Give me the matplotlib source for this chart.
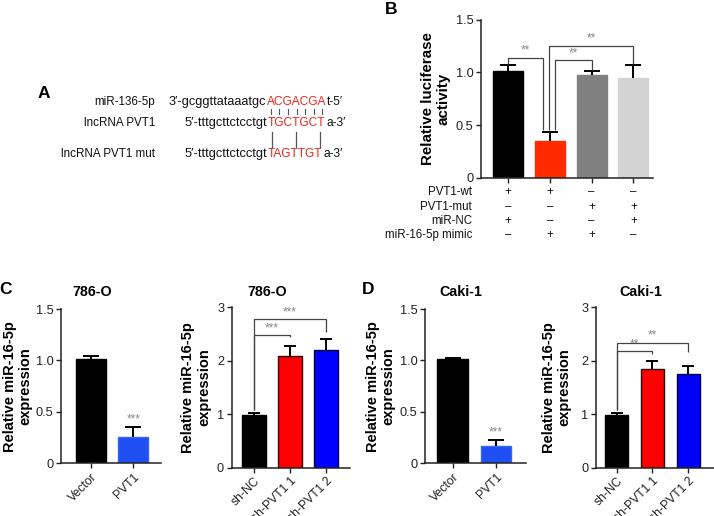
import matplotlib
matplotlib.use('Agg')
import matplotlib.pyplot as plt
from matplotlib.transforms import blended_transform_factory
from matplotlib.font_manager import FontProperties

plt.rcParams['font.family'] = ['Liberation Sans', 'DejaVu Sans']

W, H = 714, 516
fig = plt.figure(figsize=(W / 100, H / 100), dpi=100)

# ---------------- data ----------------
# Panel A
a_labels = ["miR-136-5p", "lncRNA PVT1", "lncRNA PVT1 mut"]
a_prefix = ["3′-gcggttataaatgc", "5′-tttgcttctcctgt", "5′-tttgcttctcctgt"]
a_site = ["ACGACGA", "TGCTGCT", "TAGTTGT"]
a_suffix = ["t-5′", "a-3′", "a-3′"]

# Panel B
b_means = [1.01, 0.345, 0.975, 0.945]
b_err = [0.06, 0.09, 0.04, 0.125]
b_colors = ['#000000', '#ff2a00', '#808080', '#d3d3d3']
b_rows = ["PVT1-wt", "PVT1-mut", "miR-NC", "miR-16-5p mimic"]
b_signs = [["+", "+", "–", "–"],
           ["–", "–", "+", "+"],
           ["+", "–", "–", "+"],
           ["–", "+", "+", "–"]]
# (x_left, x_right, y_top, y_left_end, y_right_end)
b_brackets = [(0, 0.83, 1.14, 1.075, 0.45),
              (1.12, 2, 1.115, 0.45, 1.025),
              (0.97, 3, 1.255, 0.45, 1.075)]
b_stars = ["**", "**", "**"]

# Panel C
c1_cats = ["Vector", "PVT1"]
c1_means = [1.01, 0.26]
c1_err = [0.03, 0.09]
c2_cats = ["sh-NC", "sh-PVT1 1", "sh-PVT1 2"]
c2_means = [0.99, 2.09, 2.21]
c2_err = [0.04, 0.18, 0.19]
c2_brackets = [(0, 1, 2.48, 1.08, 2.44), (0, 2, 2.78, 1.08, 2.54)]
c_stars = ["***", "***"]

# Panel D
d1_cats = ["Vector", "PVT1"]
d1_means = [1.01, 0.168]
d1_err = [0.015, 0.055]
d2_cats = ["sh-NC", "sh-PVT1 1", "sh-PVT1 2"]
d2_means = [0.99, 1.85, 1.76]
d2_err = [0.04, 0.15, 0.15]
d2_brackets = [(0, 1, 2.18, 1.08, 2.13), (0, 2, 2.34, 1.08, 2.17)]
d_stars = ["**", "**"]

ylab_expr = "Relative miR-16-5p\nexpression"

# ---------------- helpers ----------------
def axes_px(l, t, r, b):
    return fig.add_axes([l / W, 1 - b / H, (r - l) / W, (b - t) / H])


def style_axes(ax, xlim, ylim, yticks, yticklabels):
    for s in ['top', 'right']:
        ax.spines[s].set_visible(False)
    for s in ['left', 'bottom']:
        ax.spines[s].set_linewidth(1.1)
        ax.spines[s].set_color('#222222')
    ax.set_xlim(*xlim)
    ax.set_ylim(*ylim)
    ax.set_yticks(yticks)
    ax.set_yticklabels(yticklabels)
    ax.tick_params(axis='both', direction='out', length=3.5, width=1.0,
                   labelsize=9.2, colors='#222222', pad=2)


def draw_bars(ax, means, errs, colors, edgecolors, width, capsize):
    x = list(range(len(means)))
    ax.bar(x, means, width=width, color=colors, edgecolor=edgecolors,
           linewidth=1.0, zorder=2)
    cont = ax.errorbar(x, means, yerr=[[0] * len(errs), errs], fmt='none',
                       ecolor='black', elinewidth=1.4, capsize=capsize,
                       capthick=1.4, zorder=3)
    caps = cont.lines[1]
    if len(caps) >= 2:
        caps[0].set_visible(False)
    return x


def draw_brackets(ax, brackets, stars, star_size=8.5, color='#444444'):
    for (x1, x2, yt, y1, y2), s in zip(brackets, stars):
        ax.plot([x1, x1, x2, x2], [y1, yt, yt, y2], color=color, lw=0.9,
                zorder=4, solid_capstyle='butt')
        ax.annotate(s, xy=((x1 + x2) / 2, yt), xytext=(0, 0.5),
                    textcoords='offset points', ha='center', va='bottom',
                    fontsize=star_size, color='#888888')


def ylabel(ax, xfrac, text, size=10.5, yfrac=0.5):
    ax.text(xfrac, yfrac, text, transform=ax.transAxes, rotation=90,
            ha='center', va='center', fontsize=size, fontweight='bold',
            multialignment='center', linespacing=1.15)


def title(ax, xfrac, yfrac, text):
    ax.text(xfrac, yfrac, text, transform=ax.transAxes, ha='center',
            va='center', fontsize=10.3, fontweight='bold')


def cat_labels(ax, x, cats):
    ax.set_xticks(x)
    ax.set_xticklabels(cats, rotation=45, ha='right', rotation_mode='anchor',
                       fontsize=8.8)


# ---------------- panel A (pixel-space overlay) ----------------
axA = fig.add_axes([0, 0, 1, 1], zorder=-1)
axA.set_xlim(0, W)
axA.set_ylim(H, 0)
axA.axis('off')

# ---------------- panel B ----------------
axB = axes_px(481, 19.7, 653, 177.7)
style_axes(axB, (-0.65, 3.47), (0, 1.5), [0, 0.5, 1.0, 1.5],
           ["0", "0.5", "1.0", "1.5"])
xb = draw_bars(axB, b_means, b_err, b_colors, b_colors, 0.72, 6)
axB.set_xticks(xb)
axB.set_xticklabels([])
draw_brackets(axB, b_brackets, b_stars)
ylabel(axB, -0.265, "Relative luciferase\nactivity", size=10.9)
trB = blended_transform_factory(axB.transData, axB.transAxes)
row_y = [-0.09, -0.185, -0.274, -0.363]
for r, (name, signs) in enumerate(zip(b_rows, b_signs)):
    axB.text(-0.052, row_y[r], name, transform=axB.transAxes, ha='right',
             va='center', fontsize=8.3, color='#111111')
    for i, s in enumerate(signs):
        axB.text(xb[i], row_y[r], s, transform=trB, ha='center',
                 va='center', fontsize=8.3, color='#111111')

# ---------------- panel C ----------------
axC1 = axes_px(61, 309, 161, 463.3)
style_axes(axC1, (-0.70, 1.65), (0, 1.5), [0, 0.5, 1.0, 1.5],
           ["0", "0.5", "1.0", "1.5"])
xc1 = draw_bars(axC1, c1_means, c1_err, ['#000000', '#1f4ff2'],
                ['#000000', '#3a63f0'], 0.70, 6)
cat_labels(axC1, xc1, c1_cats)
axC1.annotate(c_stars[0], xy=(1, c1_means[1] + c1_err[1]), xytext=(0, 1.5),
              textcoords='offset points', ha='center', va='bottom',
              fontsize=8.5, color='#888888')
ylabel(axC1, -0.43, ylab_expr)
title(axC1, 0.315, 1.112, "786-O")

axC2 = axes_px(231.7, 307.3, 350, 467.7)
style_axes(axC2, (-0.62, 2.66), (0, 3), [0, 1, 2, 3], ["0", "1", "2", "3"])
xc2 = draw_bars(axC2, c2_means, c2_err, ['#000000', '#ff0000', '#0000ff'],
                ['#000000', '#300000', '#000030'], 0.65, 4.5)
cat_labels(axC2, xc2, c2_cats)
draw_brackets(axC2, c2_brackets, c_stars)
ylabel(axC2, -0.30, ylab_expr)
title(axC2, 0.30, 1.097, "786-O")

# ---------------- panel D ----------------
axD1 = axes_px(425, 309, 526, 463.3)
style_axes(axD1, (-0.64, 1.69), (0, 1.5), [0, 0.5, 1.0, 1.5],
           ["0", "0.5", "1.0", "1.5"])
xd1 = draw_bars(axD1, d1_means, d1_err, ['#000000', '#1f4ff2'],
                ['#000000', '#3a63f0'], 0.71, 6)
cat_labels(axD1, xd1, d1_cats)
axD1.annotate("***", xy=(1, d1_means[1] + d1_err[1]), xytext=(0, 1.5),
              textcoords='offset points', ha='center', va='bottom',
              fontsize=8.5, color='#888888')
ylabel(axD1, -0.436, ylab_expr)
title(axD1, 0.35, 1.112, "Caki-1")

axD2 = axes_px(596, 307.3, 714, 467.7)
style_axes(axD2, (-0.58, 2.72), (0, 3), [0, 1, 2, 3], ["0", "1", "2", "3"])
xd2 = draw_bars(axD2, d2_means, d2_err, ['#000000', '#ff0000', '#0000ff'],
                ['#000000', '#300000', '#000030'], 0.65, 4.5)
cat_labels(axD2, xd2, d2_cats)
draw_brackets(axD2, d2_brackets, d_stars)
ylabel(axD2, -0.333, ylab_expr)
title(axD2, 0.38, 1.097, "Caki-1")

# ---------------- panel letters ----------------
for letter, (px, py) in zip("ABCD", [(44, 94), (391, 9), (6, 289), (368, 289)]):
    axA.text(px, py, letter, ha='center', va='center', fontsize=12.5,
             fontweight='bold')

# ---------------- panel A sequences ----------------
renderer = fig.canvas.get_renderer()
seq_size = 8.6
prop = FontProperties(family=['Liberation Sans', 'DejaVu Sans'], size=seq_size)


def txt_w(s):
    if not s:
        return 0.0
    w, h, d = renderer.get_text_width_height_descent(s, prop, ismath=False)
    return w


row_ys = [101.7, 123.3, 154.3]
red_x = [266.7, 268, 268]
centers = []
for i in range(3):
    y = row_ys[i]
    axA.text(155, y, a_labels[i], ha='right', va='center', fontsize=8.4,
             color='#111111')
    axA.text(red_x[i] - 0.5, y, a_prefix[i], ha='right', va='center',
             fontsize=9.2, color='#111111')
    axA.text(red_x[i], y, a_site[i], ha='left', va='center',
             fontsize=seq_size, color='#e8281e')
    wsite = txt_w(a_site[i])
    axA.text(red_x[i] + wsite + 1.0, y, a_suffix[i], ha='left', va='center',
             fontsize=seq_size, color='#111111')
    cs = []
    for k in range(len(a_site[i])):
        cs.append(red_x[i] + (txt_w(a_site[i][:k]) + txt_w(a_site[i][:k + 1])) / 2)
    centers.append(cs)

for k in range(len(a_site[0])):
    xm = (centers[0][k] + centers[1][k]) / 2
    axA.plot([xm, xm], [109.3, 113.6], color='#555555', lw=0.8)
for k in range(len(a_site[1])):
    if a_site[1][k] == a_site[2][k]:
        xm = (centers[1][k] + centers[2][k]) / 2
        axA.plot([xm, xm], [132.3, 146.7], color='#555555', lw=0.9)

fig.savefig('out.png', dpi=100)
